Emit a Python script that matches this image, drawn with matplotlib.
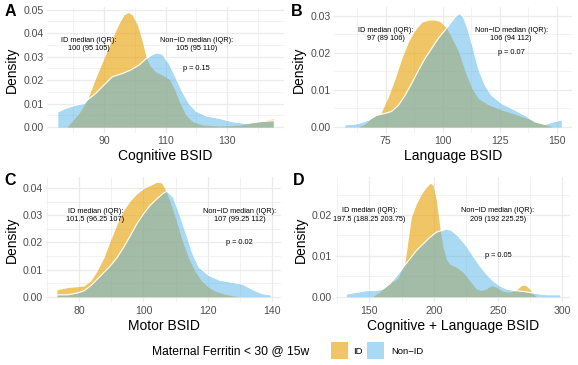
import matplotlib
matplotlib.use("Agg")
import matplotlib.pyplot as plt
from matplotlib.patches import Rectangle
import numpy as np

plt.rcParams['font.family'] = ['Liberation Sans', 'DejaVu Sans']

# ---------------- data ----------------
A_ID_x = [78, 80, 82, 84.6, 87.3, 90, 92.7, 94.9, 96.5, 97.9, 99.2, 100.9, 102.5, 103.6, 105, 106.8, 109, 111.2, 112.8, 114.5, 116.6, 118.8, 122, 127.5, 134, 139.5, 145]
A_ID_y = [0.0, 0.003, 0.006, 0.0115, 0.0207, 0.0292, 0.0377, 0.044, 0.0477, 0.0488, 0.0477, 0.0434, 0.0363, 0.030, 0.026, 0.0235, 0.0221, 0.0204, 0.0165, 0.0108, 0.0051, 0.0023, 0.0009, 0.0004, 0.0008, 0.002, 0.0035]
A_NON_x = [75, 77.5, 80.8, 83.5, 84.6, 87.3, 90, 92.7, 96, 98.7, 101.4, 103.6, 105.8, 107.4, 109, 111.2, 113.4, 115.5, 117.7, 119.9, 123.2, 127.5, 131.8, 136.2, 140.5, 145]
A_NON_y = [0.0065, 0.008, 0.0094, 0.010, 0.0115, 0.0143, 0.0179, 0.0214, 0.0228, 0.0243, 0.0264, 0.029, 0.031, 0.0316, 0.031, 0.027, 0.021, 0.015, 0.010, 0.0068, 0.0048, 0.0037, 0.0023, 0.0016, 0.0023, 0.0027]

B_ID_x = [63, 66, 68, 70, 72.6, 76.2, 79.2, 82.1, 85, 87.9, 90.8, 93.7, 96.6, 98.8, 101.7, 104, 106.9, 109.8, 112.7, 115.6, 120, 125.8, 133, 138.9, 143.3, 146.2, 148]
B_ID_y = [0.0, 0.0008, 0.002, 0.003, 0.0034, 0.0082, 0.0132, 0.0186, 0.0231, 0.0262, 0.0283, 0.0289, 0.0289, 0.0285, 0.0267, 0.024, 0.0204, 0.015, 0.0105, 0.0077, 0.006, 0.0046, 0.0032, 0.0019, 0.001, 0.0004, 0.0]
B_NON_x = [57, 60, 63.1, 67.5, 71.1, 74.8, 77.5, 80.6, 83.5, 86.4, 89.4, 92.3, 95.2, 98.1, 101, 103.2, 105.4, 107.3, 109, 111.2, 113.4, 115.6, 118.5, 121.4, 125.8, 131.6, 136, 140.4, 144.8, 148.4, 152]
B_NON_y = [0.0006, 0.0007, 0.001, 0.0019, 0.0032, 0.0037, 0.0042, 0.0059, 0.0086, 0.0118, 0.0154, 0.0186, 0.0213, 0.024, 0.0262, 0.028, 0.0298, 0.0307, 0.0298, 0.0262, 0.0213, 0.0159, 0.0114, 0.0086, 0.0064, 0.0046, 0.0032, 0.0014, 0.0007, 0.0014, 0.0019]

C_ID_x = [73, 76.4, 79.5, 81.5, 83.6, 85.6, 87.7, 89.7, 91.8, 93.8, 95.9, 97.9, 100, 102, 104.1, 105.6, 106.7, 108, 110, 112, 114, 116, 118, 120, 122, 125, 128, 130]
C_ID_y = [0.0025, 0.0034, 0.0037, 0.004, 0.0059, 0.0096, 0.0145, 0.0207, 0.0268, 0.0318, 0.0354, 0.0379, 0.0398, 0.041, 0.0422, 0.042, 0.0398, 0.036, 0.029, 0.021, 0.0145, 0.0095, 0.006, 0.0037, 0.0022, 0.001, 0.0003, 0.0]
C_NON_x = [73, 76.4, 79.5, 81.5, 83.6, 85.6, 87.7, 89.7, 91.8, 93.8, 95.9, 97.9, 100, 102, 104.1, 106.2, 107.4, 109.3, 111.3, 113.4, 115.4, 117.4, 120.5, 123.6, 127.7, 130.8, 133.8, 136.9, 139.5]
C_NON_y = [0.0007, 0.0007, 0.0014, 0.0022, 0.0041, 0.0065, 0.009, 0.0114, 0.0145, 0.0182, 0.0225, 0.0268, 0.0305, 0.0336, 0.036, 0.0382, 0.0389, 0.0367, 0.0305, 0.0231, 0.0158, 0.0108, 0.0078, 0.0062, 0.0053, 0.0047, 0.0028, 0.0012, 0.0007]

D_ID_x = [152.8, 158, 163.2, 167.1, 169.7, 172.3, 174.9, 177.5, 180, 182.6, 186.5, 190.4, 194.3, 197.4, 199.5, 202.1, 204.1, 205.2, 207.3, 209.8, 212.4, 217.6, 222.8, 228, 233.2, 237, 240.9, 244.8, 248.7, 253.9, 259.1, 263.7, 268.1, 270.7, 273.3, 277.2, 279.8]
D_ID_y = [0.0001, 0.0011, 0.0027, 0.0038, 0.0039, 0.0047, 0.0064, 0.008, 0.0137, 0.0194, 0.0227, 0.0251, 0.0268, 0.0278, 0.0272, 0.0235, 0.0186, 0.016, 0.0121, 0.0092, 0.008, 0.0072, 0.006, 0.0039, 0.0019, 0.0015, 0.0019, 0.0027, 0.0023, 0.0013, 0.0011, 0.0015, 0.0027, 0.0029, 0.0023, 0.0008, 0.0]
D_NON_x = [132, 139.9, 147.7, 155.4, 160.6, 165.8, 171, 176.2, 181.3, 186.5, 191.7, 196.9, 202.1, 206, 209.8, 213.7, 218.9, 225.4, 230.6, 235.8, 240.9, 246.1, 251.3, 256.5, 263, 269.4, 277.2, 287.6, 298]
D_NON_y = [0.00065, 0.0011, 0.0015, 0.0015, 0.0019, 0.0031, 0.0051, 0.0072, 0.0092, 0.0113, 0.0129, 0.0145, 0.0158, 0.0162, 0.0166, 0.0163, 0.0149, 0.0125, 0.01, 0.0076, 0.0056, 0.0039, 0.0027, 0.0019, 0.0015, 0.0013, 0.0009, 0.0005, 0.0005]

panel_letters = ["A", "B", "C", "D"]
x_titles = ["Cognitive BSID", "Language BSID", "Motor BSID", "Cognitive + Language BSID"]
x_ticks = [[90, 110, 130], [75, 100, 125, 150], [80, 100, 120, 140], [150, 200, 250, 300]]
y_ticks = [[0.00, 0.01, 0.02, 0.03, 0.04, 0.05], [0.00, 0.01, 0.02, 0.03],
           [0.00, 0.01, 0.02, 0.03, 0.04], [0.00, 0.01, 0.02]]
id_labels = ["ID median (IQR):\n100 (95 105)", "ID median (IQR):\n97 (89 106)",
             "ID median (IQR):\n101.5 (96.25 107)", "ID median (IQR):\n197.5 (188.25 203.75)"]
non_labels = ["Non\u2212ID median (IQR):\n105 (95 110)", "Non\u2212ID median (IQR):\n106 (94 112)",
              "Non\u2212ID median (IQR):\n107 (99.25 112)", "Non\u2212ID median (IQR):\n209 (192 225.25)"]
p_labels = ["p = 0.15", "p = 0.07", "p = 0.02", "p = 0.05"]
id_pos = [(85, 0.035), (75, 0.025), (85, 0.030), (150, 0.020)]
non_pos = [(120, 0.035), (130, 0.025), (130, 0.030), (250, 0.020)]
p_pos = [(120, 0.025), (130, 0.020), (130, 0.020), (250, 0.010)]
legend_title = "Maternal Ferritin < 30 @ 15w"
legend_labels = ["ID", "Non\u2212ID"]

series = [(A_ID_x, A_ID_y, A_NON_x, A_NON_y), (B_ID_x, B_ID_y, B_NON_x, B_NON_y),
          (C_ID_x, C_ID_y, C_NON_x, C_NON_y), (D_ID_x, D_ID_y, D_NON_x, D_NON_y)]

# ---------------- layout ----------------
W, H = 578, 365
fig = plt.figure(figsize=(W / 100, H / 100), dpi=100)
# pixel rects: (left, top, right, bottom)
rects = [(47, 7.2, 284, 132.7), (334, 7.1, 572, 132.7),
         (46.3, 176.6, 281, 302.4), (335.6, 176.6, 570.4, 302.4)]
xlims = [(71.5, 148.5), (52.3, 156.7), (69.7, 142.9), (123.7, 306.3)]
ylims = [(-0.0024, 0.051), (-0.00154, 0.0324), (-0.0021, 0.0443), (-0.0014, 0.0294)]

ID_COL = "#E69F00"
NON_COL = "#56B4E9"
GRID = "#EBEBEB"

for i in range(4):
    l, t, r, b = rects[i]
    ax = fig.add_axes([l / W, 1 - b / H, (r - l) / W, (b - t) / H])
    idx, idy, nx, ny = series[i]
    ax.fill_between(idx, 0, idy, color=ID_COL, alpha=0.6, lw=0, zorder=2)
    ax.fill_between(nx, 0, ny, color=NON_COL, alpha=0.5, lw=0, zorder=3)
    ax.plot(nx, ny, color="white", lw=0.8, zorder=3.1)

    ax.set_xlim(*xlims[i])
    ax.set_ylim(*ylims[i])
    xt = x_ticks[i]
    yt = y_ticks[i]
    ax.set_xticks(xt)
    ax.set_yticks(yt)
    ax.set_yticklabels([f"{v:.2f}" for v in yt])
    step = xt[1] - xt[0]
    xminor = [v + step / 2 for v in [xt[0] - step] + xt if xlims[i][0] < v + step / 2 < xlims[i][1]]
    ax.set_xticks(xminor, minor=True)
    ystep = yt[1] - yt[0]
    yminor = [v + ystep / 2 for v in yt if ylims[i][0] < v + ystep / 2 < ylims[i][1]]
    ax.set_yticks(yminor, minor=True)
    ax.grid(True, which="major", color=GRID, lw=0.9, zorder=0)
    ax.grid(True, which="minor", color=GRID, lw=0.45, zorder=0)
    ax.set_axisbelow(True)
    for s in ax.spines.values():
        s.set_visible(False)
    ax.tick_params(which="both", length=0, labelsize=7.6, labelcolor="#4D4D4D", pad=2.5)
    ax.set_xlabel(x_titles[i], fontsize=10, labelpad=2)
    ax.set_ylabel("Density", fontsize=10, labelpad=3)

    ax.text(*id_pos[i], id_labels[i], fontsize=5.3, ha="center", va="center", zorder=5, linespacing=1.25)
    ax.text(*non_pos[i], non_labels[i], fontsize=5.3, ha="center", va="center", zorder=5, linespacing=1.25)
    ax.text(*p_pos[i], p_labels[i], fontsize=5.3, ha="center", va="center", zorder=5)

    fig.text((l - 42) / W if i in (0, 2) else (l - 43) / W, 1 - (t + 4) / H, panel_letters[i],
             fontsize=11.5, fontweight="bold", ha="left", va="center")

# ---------------- legend ----------------
fig.text(152 / W, 1 - 351 / H, legend_title, fontsize=8.7, ha="left", va="center")
fig.add_artist(Rectangle((331 / W, 1 - 359 / H), 17 / W, 17 / H, transform=fig.transFigure,
                         facecolor=ID_COL, alpha=0.6, lw=0))
fig.text(353 / W, 1 - 351 / H, legend_labels[0], fontsize=6.8, ha="left", va="center")
fig.add_artist(Rectangle((367 / W, 1 - 359 / H), 17 / W, 17 / H, transform=fig.transFigure,
                         facecolor=NON_COL, alpha=0.5, lw=0))
fig.text(391 / W, 1 - 351 / H, legend_labels[1], fontsize=6.8, ha="left", va="center")

fig.savefig("out.png", dpi=100)
